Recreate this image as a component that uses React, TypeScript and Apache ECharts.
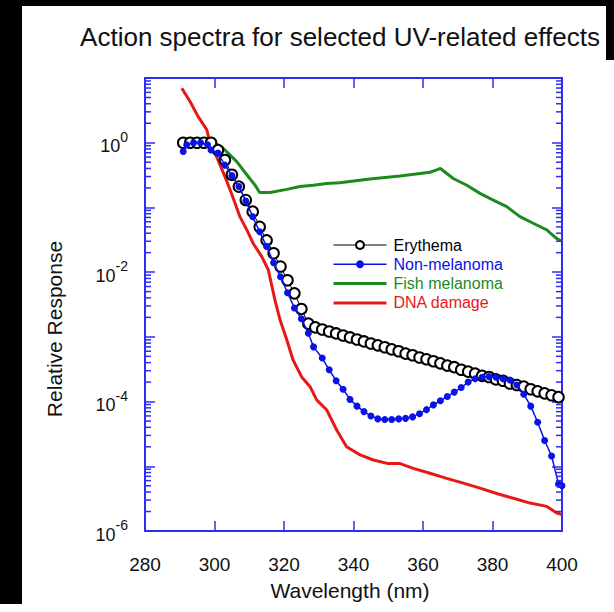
import React, { useEffect, useRef } from 'react';
import * as echarts from 'echarts';

const titleText = 'Action spectra for selected UV-related effects';
const xAxisTitle = 'Wavelength (nm)';
const yAxisTitle = 'Relative Response';

const xMin = 280;
const xMax = 400;
const xStep = 20;
const yMin = 1e-6;
const yMax = 10;

const seriesNames = ['Erythema', 'Non-melanoma', 'Fish melanoma', 'DNA damage'];

const erythemaWavelengths = [
  291, 293, 295, 297, 299, 301, 303, 305, 307, 309, 311, 313, 315, 317, 319, 321, 323, 325, 327,
  329, 331, 333, 335, 337, 339, 341, 343, 345, 347, 349, 351, 353, 355, 357, 359, 361, 363, 365,
  367, 369, 371, 373, 375, 377, 379, 381, 383, 385, 387, 389, 391, 393, 395, 397, 399,
];
const erythemaValues = [
  1.0, 1.0, 1.0, 1.0, 1.0, 0.77, 0.54, 0.32, 0.21, 0.13, 0.086, 0.05, 0.031, 0.0196, 0.0122,
  0.0075, 0.0047, 0.0027, 0.0016, 0.0014, 0.0013, 0.00121, 0.00113, 0.00105, 0.00098, 0.00091,
  0.00085, 0.00079, 0.00074, 0.00069, 0.00064, 0.0006, 0.00055, 0.00052, 0.00048, 0.00045, 0.00042,
  0.00039, 0.00036, 0.00034, 0.00031, 0.00029, 0.00027, 0.00025, 0.00024, 0.00022, 0.00021, 0.00019,
  0.00018, 0.00017, 0.000155, 0.000144, 0.000134, 0.000125, 0.000117,
];

const nonMelanomaWavelengths = [
  291, 292, 294, 296, 298, 299, 301, 303, 305, 307, 309, 311, 313, 315, 317, 319, 321, 323, 325,
  327, 328.5, 331, 333, 335, 337, 339, 341, 343, 345, 347, 349, 351, 353, 355, 357, 359, 361, 363,
  365, 367, 369, 371, 373, 375, 377, 379, 381, 383, 385, 387, 389, 391, 393, 395, 397, 399, 400,
];
const nonMelanomaValues = [
  0.73, 0.93, 1.0, 1.0, 0.93, 0.77, 0.69, 0.45, 0.31, 0.21, 0.126, 0.072, 0.042, 0.025, 0.014,
  0.0085, 0.0048, 0.0028, 0.0019, 0.00114, 0.0007, 0.00047, 0.00031, 0.00021, 0.000155, 0.000108,
  8.5e-5, 7.0e-5, 6.0e-5, 5.4e-5, 5.3e-5, 5.3e-5, 5.4e-5, 5.5e-5, 5.8e-5, 6.5e-5, 7.5e-5, 8.9e-5,
  1.03e-4, 1.2e-4, 1.4e-4, 1.65e-4, 2.0e-4, 2.25e-4, 2.38e-4, 2.43e-4, 2.38e-4, 2.25e-4, 2.16e-4,
  1.8e-4, 1.3e-4, 8.5e-5, 4.8e-5, 2.5e-5, 1.44e-5, 5.3e-6, 5.0e-6,
];

const fishWavelengths = [
  300, 302.5, 306.4, 309.3, 311.7, 313, 316, 320.8, 324.6, 328.4, 332.3, 336, 344.7, 353.4, 362,
  364, 365, 368.7, 372.6, 376.4, 380.2, 384.1, 387.9, 391.7, 395.6, 398.5, 400,
];
const fishValues = [
  1.0, 0.82, 0.51, 0.32, 0.22, 0.17, 0.17, 0.19, 0.21, 0.22, 0.235, 0.24, 0.275, 0.305, 0.35,
  0.38, 0.4, 0.28, 0.22, 0.165, 0.13, 0.103, 0.072, 0.057, 0.045, 0.033, 0.03,
];

const dnaWavelengths = [
  290.6, 293, 295.3, 297.8, 298.7, 300.6, 303, 304.5, 305.9, 307.3, 309.3, 311.1, 313.6, 315.5,
  317.4, 318.9, 320.8, 322.6, 325.1, 327.5, 329.4, 332.3, 335.2, 338, 341.9, 345.7, 350, 353.4,
  357.2, 362, 366.8, 371.6, 376.4, 381.2, 386, 390.8, 395.6, 398.5, 400,
];
const dnaValues = [
  6.95, 4.3, 2.53, 1.58, 0.98, 0.61, 0.3, 0.186, 0.117, 0.072, 0.045, 0.028, 0.0174, 0.0108,
  0.0037, 0.0018, 0.0009, 0.00044, 0.00024, 0.00017, 0.000106, 7.4e-5, 3.6e-5, 2.0e-5, 1.5e-5,
  1.25e-5, 1.1e-5, 1.1e-5, 9.3e-6, 7.8e-6, 6.5e-6, 5.5e-6, 4.6e-6, 3.8e-6, 3.2e-6, 2.7e-6, 2.4e-6,
  1.9e-6, 1.8e-6,
];

const minorTickMultipliers = [2, 3, 4, 5, 6, 7, 8, 9];
const decadeExponents = [-6, -5, -4, -3, -2, -1, 0];

const FONT = '"Liberation Sans", Arial, Helvetica, sans-serif';
const FRAME = '#2e2ef0';
const BLUE = '#0a12e6';
const RED = '#e81818';
const GREEN = '#1c8a1c';

const zip = (xs: number[], ys: number[]) => xs.map((x, i) => [x, ys[i]]);

const minorTickData: number[][] = [];
decadeExponents.forEach((e) => {
  minorTickMultipliers.forEach((m) => minorTickData.push([xMin, m * Math.pow(10, e)]));
});

const yLabel = (v: number) => {
  const e = Math.round(Math.log10(v));
  if (e % 2 !== 0) return '';
  return `{b|10}{s|${e}}`;
};

export default function App() {
  const ref = useRef<HTMLDivElement>(null);
  useEffect(() => {
    const chart = echarts.init(ref.current!, null, { renderer: 'svg' });
    const axisLine = { show: true, lineStyle: { color: FRAME, width: 2 } };
    const tick = { show: true, inside: true, length: 10, lineStyle: { color: FRAME, width: 1.5 } };
    chart.setOption({
      animation: false,
      backgroundColor: '#ffffff',
      grid: { left: 145, right: 52, top: 78, bottom: 81, containLabel: false },
      legend: {
        show: true,
        orient: 'vertical',
        left: 327,
        top: 232,
        itemWidth: 53,
        itemHeight: 10,
        itemGap: 3.3,
        selectedMode: false,
        textStyle: { fontFamily: FONT, fontSize: 16, lineHeight: 15, padding: [0, 0, 0, 2] },
        data: [
          { name: seriesNames[0], textStyle: { color: '#000000' }, lineStyle: { width: 1.2 } },
          { name: seriesNames[1], textStyle: { color: BLUE }, lineStyle: { width: 1.5 } },
          {
            name: seriesNames[2],
            textStyle: { color: GREEN },
            itemStyle: { opacity: 0 },
            lineStyle: { width: 3, color: GREEN },
          },
          {
            name: seriesNames[3],
            textStyle: { color: RED },
            itemStyle: { opacity: 0 },
            lineStyle: { width: 3, color: RED },
          },
        ],
      },
      xAxis: [
        {
          type: 'value',
          min: xMin,
          max: xMax,
          interval: xStep,
          position: 'bottom',
          axisLine,
          axisTick: tick,
          splitLine: { show: false },
          axisLabel: { show: true, color: '#111', fontFamily: FONT, fontSize: 19, margin: 24 },
        },
        {
          type: 'value',
          min: xMin,
          max: xMax,
          interval: xStep,
          position: 'top',
          axisLine,
          axisTick: tick,
          splitLine: { show: false },
          axisLabel: { show: false },
        },
      ],
      yAxis: [
        {
          type: 'log',
          logBase: 10,
          min: yMin,
          max: yMax,
          splitNumber: 7,
          position: 'left',
          axisLine,
          axisTick: tick,
          splitLine: { show: false },
          axisLabel: {
            show: true,
            margin: 17,
            formatter: yLabel,
            rich: {
              b: { fontFamily: FONT, fontSize: 18, color: '#111', padding: [7, 0, 0, 0] },
              s: { fontFamily: FONT, fontSize: 14, color: '#111', padding: [0, 0, 12, 0] },
            },
          },
        },
        {
          type: 'log',
          logBase: 10,
          min: yMin,
          max: yMax,
          splitNumber: 7,
          position: 'right',
          axisLine,
          axisTick: tick,
          splitLine: { show: false },
          axisLabel: { show: false },
        },
      ],
      graphic: [
        { type: 'rect', shape: { x: 0, y: 0, width: 22, height: 604 }, style: { fill: '#000' } },
        { type: 'rect', shape: { x: 0, y: 0, width: 614, height: 6 }, style: { fill: '#000' } },
        { type: 'rect', shape: { x: 606, y: 0, width: 8, height: 60 }, style: { fill: '#000' } },
        {
          type: 'text',
          x: 340,
          y: 37,
          style: { text: titleText, font: `26px ${FONT}`, fill: '#111', align: 'center', verticalAlign: 'middle' },
        },
        {
          type: 'text',
          x: 350,
          y: 590,
          style: { text: xAxisTitle, font: `21px ${FONT}`, fill: '#111', align: 'center', verticalAlign: 'middle' },
        },
        {
          type: 'text',
          x: 54,
          y: 329,
          rotation: Math.PI / 2,
          style: { text: yAxisTitle, font: `21px ${FONT}`, fill: '#111', align: 'center', verticalAlign: 'middle' },
        },
      ],
      series: [
        {
          name: seriesNames[3],
          type: 'line',
          data: zip(dnaWavelengths, dnaValues),
          symbol: 'none',
          z: 2,
          lineStyle: { color: RED, width: 3 },
          itemStyle: { color: RED },
        },
        {
          name: seriesNames[2],
          type: 'line',
          data: zip(fishWavelengths, fishValues),
          symbol: 'none',
          z: 2,
          lineStyle: { color: GREEN, width: 3 },
          itemStyle: { color: GREEN },
        },
        {
          name: seriesNames[0],
          type: 'line',
          data: zip(erythemaWavelengths, erythemaValues),
          symbol: 'circle',
          symbolSize: 10.5,
          z: 3,
          lineStyle: { color: '#000', width: 1 },
          itemStyle: { color: '#ffffff', borderColor: '#000', borderWidth: 2 },
        },
        {
          name: seriesNames[1],
          type: 'line',
          data: zip(nonMelanomaWavelengths, nonMelanomaValues),
          symbol: 'circle',
          symbolSize: 7,
          z: 4,
          lineStyle: { color: BLUE, width: 1.5 },
          itemStyle: { color: BLUE },
        },
        {
          type: 'custom',
          name: 'minor-ticks',
          silent: true,
          clip: false,
          z: 5,
          data: minorTickData,
          renderItem: (params: any, api: any) => {
            const p = api.coord([api.value(0), api.value(1)]);
            const cs = params.coordSys;
            const st = { stroke: FRAME, lineWidth: 1.5 };
            return {
              type: 'group',
              children: [
                { type: 'line', shape: { x1: cs.x, y1: p[1], x2: cs.x + 6, y2: p[1] }, style: st },
                {
                  type: 'line',
                  shape: { x1: cs.x + cs.width, y1: p[1], x2: cs.x + cs.width - 6, y2: p[1] },
                  style: st,
                },
              ],
            };
          },
        },
      ],
    });
    return () => chart.dispose();
  }, []);
  return (
    <div
      ref={ref}
      style={{ position: 'fixed', left: 0, top: 0, width: 614, height: 612, background: '#fff' }}
    />
  );
}
